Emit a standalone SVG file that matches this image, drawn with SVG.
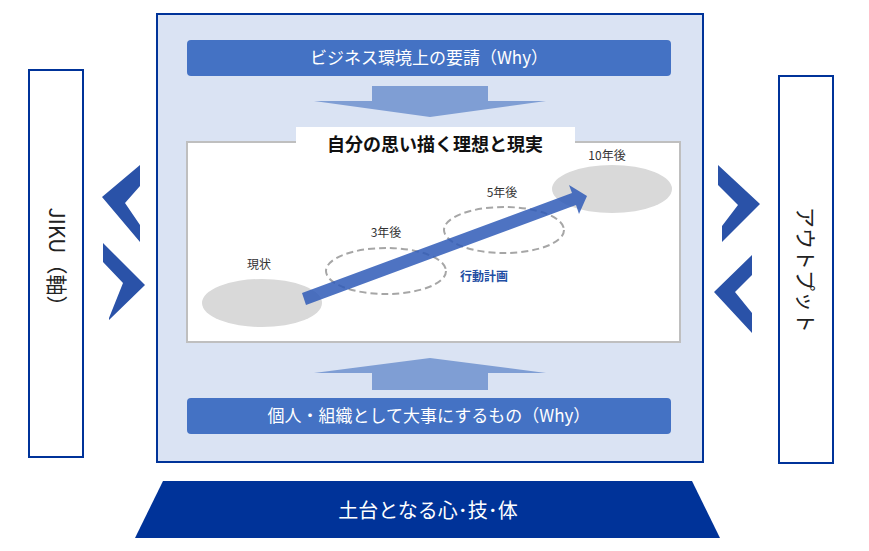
<svg xmlns="http://www.w3.org/2000/svg" width="869" height="551" viewBox="0 0 869 551">
<style>
text{font-family:"Noto Sans CJK JP","Noto Sans",sans-serif}
.side{fill:#fff;stroke:#003399;stroke-width:2}
.chev{fill:#2a52a8}
.bar{fill:#4472c4}
.bart{fill:#fff;font-size:17px;text-anchor:middle}
.wide{fill:#7f9ed4}
.el{fill:#d9d9d9}
.dash{fill:none;stroke:#a6a6a6;stroke-width:2;stroke-dasharray:7 4}
.lbl{font-size:12px;fill:#333;text-anchor:middle}
</style>
<g id="main"><rect x="157" y="14" width="546" height="448" fill="#dae3f3" stroke="#003399" stroke-width="2"/></g>
<g id="left"><rect class="side" x="29" y="70" width="54" height="387"/>
<text transform="translate(49,262) rotate(90)" font-size="21" text-anchor="middle" fill="#222">JIKU（軸）</text></g>
<g id="right"><rect class="side" x="779" y="76" width="54" height="387"/>
<text transform="translate(798,270) rotate(90)" font-size="21" text-anchor="middle" fill="#222">アウトプット</text></g>
<g id="top"><rect class="bar" x="187" y="40" width="484" height="36" rx="4"/><text class="bart" x="429" y="64">ビジネス環境上の要請（Why）</text></g>
<g id="bottom"><rect class="bar" x="187" y="398" width="484" height="36" rx="4"/><text class="bart" x="429" y="422">個人・組織として大事にするもの（Why）</text></g>
<g id="panel"><rect x="187" y="142" width="493" height="200" fill="#fff" stroke="#bfbfbf" stroke-width="2"/>
<rect x="296" y="127" width="279" height="28" fill="#fff"/>
<text x="435" y="151" font-size="18" font-weight="bold" text-anchor="middle" fill="#111">自分の思い描く理想と現実</text>
<ellipse class="el" cx="262" cy="303" rx="60" ry="24"/>
<ellipse class="el" cx="612" cy="189" rx="60" ry="24"/>
<ellipse class="dash" cx="386" cy="271" rx="60" ry="23"/>
<ellipse class="dash" cx="504" cy="230" rx="60" ry="23"/>
<text class="lbl" x="259" y="269">現状</text>
<text class="lbl" x="386" y="237">3年後</text>
<text class="lbl" x="502" y="197">5年後</text>
<text class="lbl" x="607" y="160">10年後</text>
<text x="484" y="281" font-size="12" font-weight="bold" fill="#1f4ea3" text-anchor="middle">行動計画</text>
</g>
<g id="connectors">
<polygon class="wide" points="372,86 488,86 488,101 546,101 430,117 314,101 372,101"/>
<polygon class="wide" points="372,390 488,390 488,373 546,373 430,358 314,373 372,373"/>
<polygon fill="#2f5bb7" fill-opacity="0.85" points="302,293 572,193 569,185 587,196 579,214 576,205 306,305"/>
<polygon class="chev" points="140,165 102,197 140,242 140,225 125,203 140,186"/>
<polygon class="chev" points="103,243 145,285 109,320 109,318 123,283 103,262"/>
<polygon class="chev" points="718,165 760,204 722,242 722,226 738,205 718,185"/>
<polygon class="chev" points="752,255 714,292 752,333 752,313 735,292 752,275"/>
</g>
<g id="base"><polygon points="163,481 692,481 720,538 135,538" fill="#003399"/>
<text x="428" y="518" font-size="20" fill="#fff" text-anchor="middle">土台となる心･技･体</text></g>
</svg>
